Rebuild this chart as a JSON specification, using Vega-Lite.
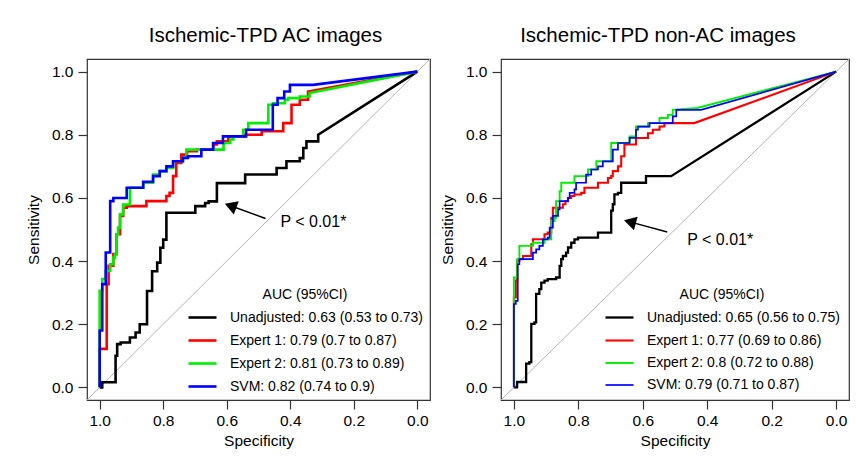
{
  "$schema": "https://vega.github.io/schema/vega-lite/v6.json",
  "background": "white",
  "padding": {"left": 25, "top": 24, "right": 0, "bottom": 0},
  "config": {
    "font": "Liberation Sans",
    "view": {"stroke": "#333", "strokeWidth": 1.2},
    "axis": {"domain": false, "grid": false, "tickColor": "#333", "tickSize": 9, "tickWidth": 1.2, "labelFontSize": 15.5, "labelColor": "#000", "titleFontSize": 15.5, "titleFontWeight": "normal", "titleColor": "#000", "labelPadding": 4},
    "axisY": {"labelPadding": 5, "titlePadding": 10},
    "axisX": {"titlePadding": 5},
    "legend": {"padding": 0},
    "title": {"fontSize": 20.5, "fontWeight": "normal", "color": "#000", "offset": 11}
  },
  "datasets": {
    "ac": [
      {"curve":"Unadjusted: 0.63 (0.53 to 0.73)","spec":1,"sens":0},
      {"curve":"Unadjusted: 0.63 (0.53 to 0.73)","spec":0.992,"sens":0},
      {"curve":"Unadjusted: 0.63 (0.53 to 0.73)","spec":0.992,"sens":0.016},
      {"curve":"Unadjusted: 0.63 (0.53 to 0.73)","spec":0.950,"sens":0.016},
      {"curve":"Unadjusted: 0.63 (0.53 to 0.73)","spec":0.950,"sens":0.1},
      {"curve":"Unadjusted: 0.63 (0.53 to 0.73)","spec":0.945,"sens":0.1},
      {"curve":"Unadjusted: 0.63 (0.53 to 0.73)","spec":0.945,"sens":0.137},
      {"curve":"Unadjusted: 0.63 (0.53 to 0.73)","spec":0.934,"sens":0.137},
      {"curve":"Unadjusted: 0.63 (0.53 to 0.73)","spec":0.934,"sens":0.142},
      {"curve":"Unadjusted: 0.63 (0.53 to 0.73)","spec":0.905,"sens":0.142},
      {"curve":"Unadjusted: 0.63 (0.53 to 0.73)","spec":0.905,"sens":0.158},
      {"curve":"Unadjusted: 0.63 (0.53 to 0.73)","spec":0.887,"sens":0.158},
      {"curve":"Unadjusted: 0.63 (0.53 to 0.73)","spec":0.887,"sens":0.174},
      {"curve":"Unadjusted: 0.63 (0.53 to 0.73)","spec":0.874,"sens":0.174},
      {"curve":"Unadjusted: 0.63 (0.53 to 0.73)","spec":0.874,"sens":0.2},
      {"curve":"Unadjusted: 0.63 (0.53 to 0.73)","spec":0.851,"sens":0.2},
      {"curve":"Unadjusted: 0.63 (0.53 to 0.73)","spec":0.851,"sens":0.305},
      {"curve":"Unadjusted: 0.63 (0.53 to 0.73)","spec":0.835,"sens":0.305},
      {"curve":"Unadjusted: 0.63 (0.53 to 0.73)","spec":0.835,"sens":0.368},
      {"curve":"Unadjusted: 0.63 (0.53 to 0.73)","spec":0.819,"sens":0.368},
      {"curve":"Unadjusted: 0.63 (0.53 to 0.73)","spec":0.819,"sens":0.395},
      {"curve":"Unadjusted: 0.63 (0.53 to 0.73)","spec":0.809,"sens":0.395},
      {"curve":"Unadjusted: 0.63 (0.53 to 0.73)","spec":0.809,"sens":0.442},
      {"curve":"Unadjusted: 0.63 (0.53 to 0.73)","spec":0.800,"sens":0.442},
      {"curve":"Unadjusted: 0.63 (0.53 to 0.73)","spec":0.800,"sens":0.468},
      {"curve":"Unadjusted: 0.63 (0.53 to 0.73)","spec":0.790,"sens":0.468},
      {"curve":"Unadjusted: 0.63 (0.53 to 0.73)","spec":0.790,"sens":0.553},
      {"curve":"Unadjusted: 0.63 (0.53 to 0.73)","spec":0.699,"sens":0.553},
      {"curve":"Unadjusted: 0.63 (0.53 to 0.73)","spec":0.699,"sens":0.574},
      {"curve":"Unadjusted: 0.63 (0.53 to 0.73)","spec":0.668,"sens":0.574},
      {"curve":"Unadjusted: 0.63 (0.53 to 0.73)","spec":0.668,"sens":0.584},
      {"curve":"Unadjusted: 0.63 (0.53 to 0.73)","spec":0.657,"sens":0.584},
      {"curve":"Unadjusted: 0.63 (0.53 to 0.73)","spec":0.657,"sens":0.589},
      {"curve":"Unadjusted: 0.63 (0.53 to 0.73)","spec":0.631,"sens":0.589},
      {"curve":"Unadjusted: 0.63 (0.53 to 0.73)","spec":0.631,"sens":0.647},
      {"curve":"Unadjusted: 0.63 (0.53 to 0.73)","spec":0.542,"sens":0.647},
      {"curve":"Unadjusted: 0.63 (0.53 to 0.73)","spec":0.542,"sens":0.674},
      {"curve":"Unadjusted: 0.63 (0.53 to 0.73)","spec":0.443,"sens":0.674},
      {"curve":"Unadjusted: 0.63 (0.53 to 0.73)","spec":0.443,"sens":0.695},
      {"curve":"Unadjusted: 0.63 (0.53 to 0.73)","spec":0.412,"sens":0.695},
      {"curve":"Unadjusted: 0.63 (0.53 to 0.73)","spec":0.412,"sens":0.716},
      {"curve":"Unadjusted: 0.63 (0.53 to 0.73)","spec":0.370,"sens":0.716},
      {"curve":"Unadjusted: 0.63 (0.53 to 0.73)","spec":0.370,"sens":0.726},
      {"curve":"Unadjusted: 0.63 (0.53 to 0.73)","spec":0.359,"sens":0.726},
      {"curve":"Unadjusted: 0.63 (0.53 to 0.73)","spec":0.359,"sens":0.758},
      {"curve":"Unadjusted: 0.63 (0.53 to 0.73)","spec":0.349,"sens":0.758},
      {"curve":"Unadjusted: 0.63 (0.53 to 0.73)","spec":0.349,"sens":0.779},
      {"curve":"Unadjusted: 0.63 (0.53 to 0.73)","spec":0.312,"sens":0.779},
      {"curve":"Unadjusted: 0.63 (0.53 to 0.73)","spec":0.312,"sens":0.8},
      {"curve":"Unadjusted: 0.63 (0.53 to 0.73)","spec":0,"sens":1},

      {"curve":"Expert 1: 0.79 (0.7 to 0.87)","spec":1,"sens":0},
      {"curve":"Expert 1: 0.79 (0.7 to 0.87)","spec":1,"sens":0.122},
      {"curve":"Expert 1: 0.79 (0.7 to 0.87)","spec":0.978,"sens":0.122},
      {"curve":"Expert 1: 0.79 (0.7 to 0.87)","spec":0.978,"sens":0.327},
      {"curve":"Expert 1: 0.79 (0.7 to 0.87)","spec":0.972,"sens":0.327},
      {"curve":"Expert 1: 0.79 (0.7 to 0.87)","spec":0.972,"sens":0.385},
      {"curve":"Expert 1: 0.79 (0.7 to 0.87)","spec":0.957,"sens":0.385},
      {"curve":"Expert 1: 0.79 (0.7 to 0.87)","spec":0.957,"sens":0.422},
      {"curve":"Expert 1: 0.79 (0.7 to 0.87)","spec":0.947,"sens":0.422},
      {"curve":"Expert 1: 0.79 (0.7 to 0.87)","spec":0.947,"sens":0.485},
      {"curve":"Expert 1: 0.79 (0.7 to 0.87)","spec":0.936,"sens":0.485},
      {"curve":"Expert 1: 0.79 (0.7 to 0.87)","spec":0.936,"sens":0.543},
      {"curve":"Expert 1: 0.79 (0.7 to 0.87)","spec":0.926,"sens":0.543},
      {"curve":"Expert 1: 0.79 (0.7 to 0.87)","spec":0.926,"sens":0.569},
      {"curve":"Expert 1: 0.79 (0.7 to 0.87)","spec":0.915,"sens":0.569},
      {"curve":"Expert 1: 0.79 (0.7 to 0.87)","spec":0.915,"sens":0.574},
      {"curve":"Expert 1: 0.79 (0.7 to 0.87)","spec":0.853,"sens":0.574},
      {"curve":"Expert 1: 0.79 (0.7 to 0.87)","spec":0.853,"sens":0.590},
      {"curve":"Expert 1: 0.79 (0.7 to 0.87)","spec":0.790,"sens":0.590},
      {"curve":"Expert 1: 0.79 (0.7 to 0.87)","spec":0.790,"sens":0.606},
      {"curve":"Expert 1: 0.79 (0.7 to 0.87)","spec":0.780,"sens":0.606},
      {"curve":"Expert 1: 0.79 (0.7 to 0.87)","spec":0.780,"sens":0.616},
      {"curve":"Expert 1: 0.79 (0.7 to 0.87)","spec":0.769,"sens":0.616},
      {"curve":"Expert 1: 0.79 (0.7 to 0.87)","spec":0.769,"sens":0.669},
      {"curve":"Expert 1: 0.79 (0.7 to 0.87)","spec":0.759,"sens":0.669},
      {"curve":"Expert 1: 0.79 (0.7 to 0.87)","spec":0.759,"sens":0.711},
      {"curve":"Expert 1: 0.79 (0.7 to 0.87)","spec":0.743,"sens":0.711},
      {"curve":"Expert 1: 0.79 (0.7 to 0.87)","spec":0.743,"sens":0.737},
      {"curve":"Expert 1: 0.79 (0.7 to 0.87)","spec":0.725,"sens":0.737},
      {"curve":"Expert 1: 0.79 (0.7 to 0.87)","spec":0.725,"sens":0.748},
      {"curve":"Expert 1: 0.79 (0.7 to 0.87)","spec":0.694,"sens":0.748},
      {"curve":"Expert 1: 0.79 (0.7 to 0.87)","spec":0.694,"sens":0.753},
      {"curve":"Expert 1: 0.79 (0.7 to 0.87)","spec":0.642,"sens":0.753},
      {"curve":"Expert 1: 0.79 (0.7 to 0.87)","spec":0.642,"sens":0.769},
      {"curve":"Expert 1: 0.79 (0.7 to 0.87)","spec":0.631,"sens":0.769},
      {"curve":"Expert 1: 0.79 (0.7 to 0.87)","spec":0.631,"sens":0.779},
      {"curve":"Expert 1: 0.79 (0.7 to 0.87)","spec":0.595,"sens":0.779},
      {"curve":"Expert 1: 0.79 (0.7 to 0.87)","spec":0.595,"sens":0.795},
      {"curve":"Expert 1: 0.79 (0.7 to 0.87)","spec":0.542,"sens":0.795},
      {"curve":"Expert 1: 0.79 (0.7 to 0.87)","spec":0.542,"sens":0.800},
      {"curve":"Expert 1: 0.79 (0.7 to 0.87)","spec":0.490,"sens":0.800},
      {"curve":"Expert 1: 0.79 (0.7 to 0.87)","spec":0.490,"sens":0.811},
      {"curve":"Expert 1: 0.79 (0.7 to 0.87)","spec":0.422,"sens":0.811},
      {"curve":"Expert 1: 0.79 (0.7 to 0.87)","spec":0.422,"sens":0.837},
      {"curve":"Expert 1: 0.79 (0.7 to 0.87)","spec":0.396,"sens":0.837},
      {"curve":"Expert 1: 0.79 (0.7 to 0.87)","spec":0.396,"sens":0.895},
      {"curve":"Expert 1: 0.79 (0.7 to 0.87)","spec":0.370,"sens":0.895},
      {"curve":"Expert 1: 0.79 (0.7 to 0.87)","spec":0.370,"sens":0.911},
      {"curve":"Expert 1: 0.79 (0.7 to 0.87)","spec":0.344,"sens":0.911},
      {"curve":"Expert 1: 0.79 (0.7 to 0.87)","spec":0.344,"sens":0.937},
      {"curve":"Expert 1: 0.79 (0.7 to 0.87)","spec":0,"sens":1},

      {"curve":"Expert 2: 0.81 (0.73 to 0.89)","spec":1,"sens":0},
      {"curve":"Expert 2: 0.81 (0.73 to 0.89)","spec":1,"sens":0.306},
      {"curve":"Expert 2: 0.81 (0.73 to 0.89)","spec":0.992,"sens":0.306},
      {"curve":"Expert 2: 0.81 (0.73 to 0.89)","spec":0.992,"sens":0.343},
      {"curve":"Expert 2: 0.81 (0.73 to 0.89)","spec":0.981,"sens":0.343},
      {"curve":"Expert 2: 0.81 (0.73 to 0.89)","spec":0.981,"sens":0.369},
      {"curve":"Expert 2: 0.81 (0.73 to 0.89)","spec":0.967,"sens":0.369},
      {"curve":"Expert 2: 0.81 (0.73 to 0.89)","spec":0.967,"sens":0.390},
      {"curve":"Expert 2: 0.81 (0.73 to 0.89)","spec":0.957,"sens":0.390},
      {"curve":"Expert 2: 0.81 (0.73 to 0.89)","spec":0.957,"sens":0.411},
      {"curve":"Expert 2: 0.81 (0.73 to 0.89)","spec":0.952,"sens":0.411},
      {"curve":"Expert 2: 0.81 (0.73 to 0.89)","spec":0.952,"sens":0.422},
      {"curve":"Expert 2: 0.81 (0.73 to 0.89)","spec":0.947,"sens":0.422},
      {"curve":"Expert 2: 0.81 (0.73 to 0.89)","spec":0.947,"sens":0.485},
      {"curve":"Expert 2: 0.81 (0.73 to 0.89)","spec":0.942,"sens":0.485},
      {"curve":"Expert 2: 0.81 (0.73 to 0.89)","spec":0.942,"sens":0.506},
      {"curve":"Expert 2: 0.81 (0.73 to 0.89)","spec":0.936,"sens":0.506},
      {"curve":"Expert 2: 0.81 (0.73 to 0.89)","spec":0.936,"sens":0.548},
      {"curve":"Expert 2: 0.81 (0.73 to 0.89)","spec":0.926,"sens":0.548},
      {"curve":"Expert 2: 0.81 (0.73 to 0.89)","spec":0.926,"sens":0.579},
      {"curve":"Expert 2: 0.81 (0.73 to 0.89)","spec":0.905,"sens":0.579},
      {"curve":"Expert 2: 0.81 (0.73 to 0.89)","spec":0.905,"sens":0.632},
      {"curve":"Expert 2: 0.81 (0.73 to 0.89)","spec":0.863,"sens":0.632},
      {"curve":"Expert 2: 0.81 (0.73 to 0.89)","spec":0.863,"sens":0.648},
      {"curve":"Expert 2: 0.81 (0.73 to 0.89)","spec":0.832,"sens":0.648},
      {"curve":"Expert 2: 0.81 (0.73 to 0.89)","spec":0.832,"sens":0.674},
      {"curve":"Expert 2: 0.81 (0.73 to 0.89)","spec":0.811,"sens":0.674},
      {"curve":"Expert 2: 0.81 (0.73 to 0.89)","spec":0.811,"sens":0.685},
      {"curve":"Expert 2: 0.81 (0.73 to 0.89)","spec":0.790,"sens":0.685},
      {"curve":"Expert 2: 0.81 (0.73 to 0.89)","spec":0.790,"sens":0.695},
      {"curve":"Expert 2: 0.81 (0.73 to 0.89)","spec":0.769,"sens":0.695},
      {"curve":"Expert 2: 0.81 (0.73 to 0.89)","spec":0.769,"sens":0.716},
      {"curve":"Expert 2: 0.81 (0.73 to 0.89)","spec":0.738,"sens":0.716},
      {"curve":"Expert 2: 0.81 (0.73 to 0.89)","spec":0.738,"sens":0.727},
      {"curve":"Expert 2: 0.81 (0.73 to 0.89)","spec":0.727,"sens":0.727},
      {"curve":"Expert 2: 0.81 (0.73 to 0.89)","spec":0.727,"sens":0.753},
      {"curve":"Expert 2: 0.81 (0.73 to 0.89)","spec":0.610,"sens":0.753},
      {"curve":"Expert 2: 0.81 (0.73 to 0.89)","spec":0.610,"sens":0.774},
      {"curve":"Expert 2: 0.81 (0.73 to 0.89)","spec":0.589,"sens":0.774},
      {"curve":"Expert 2: 0.81 (0.73 to 0.89)","spec":0.589,"sens":0.785},
      {"curve":"Expert 2: 0.81 (0.73 to 0.89)","spec":0.579,"sens":0.785},
      {"curve":"Expert 2: 0.81 (0.73 to 0.89)","spec":0.579,"sens":0.795},
      {"curve":"Expert 2: 0.81 (0.73 to 0.89)","spec":0.548,"sens":0.795},
      {"curve":"Expert 2: 0.81 (0.73 to 0.89)","spec":0.548,"sens":0.816},
      {"curve":"Expert 2: 0.81 (0.73 to 0.89)","spec":0.532,"sens":0.816},
      {"curve":"Expert 2: 0.81 (0.73 to 0.89)","spec":0.532,"sens":0.837},
      {"curve":"Expert 2: 0.81 (0.73 to 0.89)","spec":0.469,"sens":0.837},
      {"curve":"Expert 2: 0.81 (0.73 to 0.89)","spec":0.469,"sens":0.895},
      {"curve":"Expert 2: 0.81 (0.73 to 0.89)","spec":0.454,"sens":0.895},
      {"curve":"Expert 2: 0.81 (0.73 to 0.89)","spec":0.454,"sens":0.900},
      {"curve":"Expert 2: 0.81 (0.73 to 0.89)","spec":0.417,"sens":0.900},
      {"curve":"Expert 2: 0.81 (0.73 to 0.89)","spec":0.417,"sens":0.911},
      {"curve":"Expert 2: 0.81 (0.73 to 0.89)","spec":0.407,"sens":0.911},
      {"curve":"Expert 2: 0.81 (0.73 to 0.89)","spec":0.407,"sens":0.916},
      {"curve":"Expert 2: 0.81 (0.73 to 0.89)","spec":0.370,"sens":0.916},
      {"curve":"Expert 2: 0.81 (0.73 to 0.89)","spec":0.370,"sens":0.921},
      {"curve":"Expert 2: 0.81 (0.73 to 0.89)","spec":0.339,"sens":0.921},
      {"curve":"Expert 2: 0.81 (0.73 to 0.89)","spec":0.339,"sens":0.932},
      {"curve":"Expert 2: 0.81 (0.73 to 0.89)","spec":0,"sens":1},

      {"curve":"SVM: 0.82 (0.74 to 0.9)","spec":1,"sens":0},
      {"curve":"SVM: 0.82 (0.74 to 0.9)","spec":1,"sens":0.18},
      {"curve":"SVM: 0.82 (0.74 to 0.9)","spec":0.992,"sens":0.18},
      {"curve":"SVM: 0.82 (0.74 to 0.9)","spec":0.992,"sens":0.327},
      {"curve":"SVM: 0.82 (0.74 to 0.9)","spec":0.981,"sens":0.327},
      {"curve":"SVM: 0.82 (0.74 to 0.9)","spec":0.981,"sens":0.427},
      {"curve":"SVM: 0.82 (0.74 to 0.9)","spec":0.967,"sens":0.427},
      {"curve":"SVM: 0.82 (0.74 to 0.9)","spec":0.967,"sens":0.590},
      {"curve":"SVM: 0.82 (0.74 to 0.9)","spec":0.957,"sens":0.590},
      {"curve":"SVM: 0.82 (0.74 to 0.9)","spec":0.957,"sens":0.600},
      {"curve":"SVM: 0.82 (0.74 to 0.9)","spec":0.915,"sens":0.600},
      {"curve":"SVM: 0.82 (0.74 to 0.9)","spec":0.915,"sens":0.632},
      {"curve":"SVM: 0.82 (0.74 to 0.9)","spec":0.863,"sens":0.632},
      {"curve":"SVM: 0.82 (0.74 to 0.9)","spec":0.863,"sens":0.651},
      {"curve":"SVM: 0.82 (0.74 to 0.9)","spec":0.832,"sens":0.651},
      {"curve":"SVM: 0.82 (0.74 to 0.9)","spec":0.832,"sens":0.669},
      {"curve":"SVM: 0.82 (0.74 to 0.9)","spec":0.811,"sens":0.669},
      {"curve":"SVM: 0.82 (0.74 to 0.9)","spec":0.811,"sens":0.685},
      {"curve":"SVM: 0.82 (0.74 to 0.9)","spec":0.790,"sens":0.685},
      {"curve":"SVM: 0.82 (0.74 to 0.9)","spec":0.790,"sens":0.700},
      {"curve":"SVM: 0.82 (0.74 to 0.9)","spec":0.769,"sens":0.700},
      {"curve":"SVM: 0.82 (0.74 to 0.9)","spec":0.769,"sens":0.716},
      {"curve":"SVM: 0.82 (0.74 to 0.9)","spec":0.738,"sens":0.716},
      {"curve":"SVM: 0.82 (0.74 to 0.9)","spec":0.738,"sens":0.727},
      {"curve":"SVM: 0.82 (0.74 to 0.9)","spec":0.722,"sens":0.727},
      {"curve":"SVM: 0.82 (0.74 to 0.9)","spec":0.722,"sens":0.732},
      {"curve":"SVM: 0.82 (0.74 to 0.9)","spec":0.680,"sens":0.732},
      {"curve":"SVM: 0.82 (0.74 to 0.9)","spec":0.680,"sens":0.753},
      {"curve":"SVM: 0.82 (0.74 to 0.9)","spec":0.643,"sens":0.753},
      {"curve":"SVM: 0.82 (0.74 to 0.9)","spec":0.643,"sens":0.774},
      {"curve":"SVM: 0.82 (0.74 to 0.9)","spec":0.612,"sens":0.774},
      {"curve":"SVM: 0.82 (0.74 to 0.9)","spec":0.612,"sens":0.795},
      {"curve":"SVM: 0.82 (0.74 to 0.9)","spec":0.539,"sens":0.795},
      {"curve":"SVM: 0.82 (0.74 to 0.9)","spec":0.539,"sens":0.816},
      {"curve":"SVM: 0.82 (0.74 to 0.9)","spec":0.455,"sens":0.816},
      {"curve":"SVM: 0.82 (0.74 to 0.9)","spec":0.455,"sens":0.895},
      {"curve":"SVM: 0.82 (0.74 to 0.9)","spec":0.440,"sens":0.895},
      {"curve":"SVM: 0.82 (0.74 to 0.9)","spec":0.440,"sens":0.916},
      {"curve":"SVM: 0.82 (0.74 to 0.9)","spec":0.419,"sens":0.916},
      {"curve":"SVM: 0.82 (0.74 to 0.9)","spec":0.419,"sens":0.937},
      {"curve":"SVM: 0.82 (0.74 to 0.9)","spec":0.401,"sens":0.937},
      {"curve":"SVM: 0.82 (0.74 to 0.9)","spec":0.401,"sens":0.958},
      {"curve":"SVM: 0.82 (0.74 to 0.9)","spec":0.328,"sens":0.958},
      {"curve":"SVM: 0.82 (0.74 to 0.9)","spec":0,"sens":1}
    ],
    "nonac": [
      {"curve":"Unadjusted: 0.65 (0.56 to 0.75)","spec":1,"sens":0},
      {"curve":"Unadjusted: 0.65 (0.56 to 0.75)","spec":0.990,"sens":0},
      {"curve":"Unadjusted: 0.65 (0.56 to 0.75)","spec":0.990,"sens":0.017},
      {"curve":"Unadjusted: 0.65 (0.56 to 0.75)","spec":0.962,"sens":0.017},
      {"curve":"Unadjusted: 0.65 (0.56 to 0.75)","spec":0.962,"sens":0.075},
      {"curve":"Unadjusted: 0.65 (0.56 to 0.75)","spec":0.952,"sens":0.075},
      {"curve":"Unadjusted: 0.65 (0.56 to 0.75)","spec":0.952,"sens":0.080},
      {"curve":"Unadjusted: 0.65 (0.56 to 0.75)","spec":0.946,"sens":0.080},
      {"curve":"Unadjusted: 0.65 (0.56 to 0.75)","spec":0.946,"sens":0.201},
      {"curve":"Unadjusted: 0.65 (0.56 to 0.75)","spec":0.936,"sens":0.201},
      {"curve":"Unadjusted: 0.65 (0.56 to 0.75)","spec":0.936,"sens":0.206},
      {"curve":"Unadjusted: 0.65 (0.56 to 0.75)","spec":0.931,"sens":0.206},
      {"curve":"Unadjusted: 0.65 (0.56 to 0.75)","spec":0.931,"sens":0.296},
      {"curve":"Unadjusted: 0.65 (0.56 to 0.75)","spec":0.921,"sens":0.296},
      {"curve":"Unadjusted: 0.65 (0.56 to 0.75)","spec":0.921,"sens":0.311},
      {"curve":"Unadjusted: 0.65 (0.56 to 0.75)","spec":0.915,"sens":0.311},
      {"curve":"Unadjusted: 0.65 (0.56 to 0.75)","spec":0.915,"sens":0.332},
      {"curve":"Unadjusted: 0.65 (0.56 to 0.75)","spec":0.905,"sens":0.332},
      {"curve":"Unadjusted: 0.65 (0.56 to 0.75)","spec":0.905,"sens":0.338},
      {"curve":"Unadjusted: 0.65 (0.56 to 0.75)","spec":0.895,"sens":0.338},
      {"curve":"Unadjusted: 0.65 (0.56 to 0.75)","spec":0.895,"sens":0.343},
      {"curve":"Unadjusted: 0.65 (0.56 to 0.75)","spec":0.869,"sens":0.343},
      {"curve":"Unadjusted: 0.65 (0.56 to 0.75)","spec":0.869,"sens":0.348},
      {"curve":"Unadjusted: 0.65 (0.56 to 0.75)","spec":0.858,"sens":0.348},
      {"curve":"Unadjusted: 0.65 (0.56 to 0.75)","spec":0.858,"sens":0.385},
      {"curve":"Unadjusted: 0.65 (0.56 to 0.75)","spec":0.853,"sens":0.385},
      {"curve":"Unadjusted: 0.65 (0.56 to 0.75)","spec":0.853,"sens":0.406},
      {"curve":"Unadjusted: 0.65 (0.56 to 0.75)","spec":0.848,"sens":0.406},
      {"curve":"Unadjusted: 0.65 (0.56 to 0.75)","spec":0.848,"sens":0.416},
      {"curve":"Unadjusted: 0.65 (0.56 to 0.75)","spec":0.838,"sens":0.416},
      {"curve":"Unadjusted: 0.65 (0.56 to 0.75)","spec":0.838,"sens":0.427},
      {"curve":"Unadjusted: 0.65 (0.56 to 0.75)","spec":0.832,"sens":0.427},
      {"curve":"Unadjusted: 0.65 (0.56 to 0.75)","spec":0.832,"sens":0.443},
      {"curve":"Unadjusted: 0.65 (0.56 to 0.75)","spec":0.822,"sens":0.443},
      {"curve":"Unadjusted: 0.65 (0.56 to 0.75)","spec":0.822,"sens":0.458},
      {"curve":"Unadjusted: 0.65 (0.56 to 0.75)","spec":0.812,"sens":0.458},
      {"curve":"Unadjusted: 0.65 (0.56 to 0.75)","spec":0.812,"sens":0.469},
      {"curve":"Unadjusted: 0.65 (0.56 to 0.75)","spec":0.801,"sens":0.469},
      {"curve":"Unadjusted: 0.65 (0.56 to 0.75)","spec":0.801,"sens":0.474},
      {"curve":"Unadjusted: 0.65 (0.56 to 0.75)","spec":0.739,"sens":0.474},
      {"curve":"Unadjusted: 0.65 (0.56 to 0.75)","spec":0.739,"sens":0.490},
      {"curve":"Unadjusted: 0.65 (0.56 to 0.75)","spec":0.698,"sens":0.490},
      {"curve":"Unadjusted: 0.65 (0.56 to 0.75)","spec":0.698,"sens":0.560},
      {"curve":"Unadjusted: 0.65 (0.56 to 0.75)","spec":0.693,"sens":0.560},
      {"curve":"Unadjusted: 0.65 (0.56 to 0.75)","spec":0.693,"sens":0.580},
      {"curve":"Unadjusted: 0.65 (0.56 to 0.75)","spec":0.688,"sens":0.580},
      {"curve":"Unadjusted: 0.65 (0.56 to 0.75)","spec":0.688,"sens":0.611},
      {"curve":"Unadjusted: 0.65 (0.56 to 0.75)","spec":0.677,"sens":0.611},
      {"curve":"Unadjusted: 0.65 (0.56 to 0.75)","spec":0.677,"sens":0.616},
      {"curve":"Unadjusted: 0.65 (0.56 to 0.75)","spec":0.667,"sens":0.616},
      {"curve":"Unadjusted: 0.65 (0.56 to 0.75)","spec":0.667,"sens":0.648},
      {"curve":"Unadjusted: 0.65 (0.56 to 0.75)","spec":0.590,"sens":0.648},
      {"curve":"Unadjusted: 0.65 (0.56 to 0.75)","spec":0.590,"sens":0.669},
      {"curve":"Unadjusted: 0.65 (0.56 to 0.75)","spec":0.512,"sens":0.669},
      {"curve":"Unadjusted: 0.65 (0.56 to 0.75)","spec":0,"sens":1},

      {"curve":"Expert 1: 0.77 (0.69 to 0.86)","spec":1,"sens":0},
      {"curve":"Expert 1: 0.77 (0.69 to 0.86)","spec":1,"sens":0.285},
      {"curve":"Expert 1: 0.77 (0.69 to 0.86)","spec":0.994,"sens":0.285},
      {"curve":"Expert 1: 0.77 (0.69 to 0.86)","spec":0.994,"sens":0.338},
      {"curve":"Expert 1: 0.77 (0.69 to 0.86)","spec":0.990,"sens":0.338},
      {"curve":"Expert 1: 0.77 (0.69 to 0.86)","spec":0.990,"sens":0.401},
      {"curve":"Expert 1: 0.77 (0.69 to 0.86)","spec":0.983,"sens":0.401},
      {"curve":"Expert 1: 0.77 (0.69 to 0.86)","spec":0.983,"sens":0.406},
      {"curve":"Expert 1: 0.77 (0.69 to 0.86)","spec":0.972,"sens":0.406},
      {"curve":"Expert 1: 0.77 (0.69 to 0.86)","spec":0.972,"sens":0.416},
      {"curve":"Expert 1: 0.77 (0.69 to 0.86)","spec":0.946,"sens":0.416},
      {"curve":"Expert 1: 0.77 (0.69 to 0.86)","spec":0.946,"sens":0.453},
      {"curve":"Expert 1: 0.77 (0.69 to 0.86)","spec":0.941,"sens":0.453},
      {"curve":"Expert 1: 0.77 (0.69 to 0.86)","spec":0.941,"sens":0.469},
      {"curve":"Expert 1: 0.77 (0.69 to 0.86)","spec":0.905,"sens":0.469},
      {"curve":"Expert 1: 0.77 (0.69 to 0.86)","spec":0.905,"sens":0.485},
      {"curve":"Expert 1: 0.77 (0.69 to 0.86)","spec":0.895,"sens":0.485},
      {"curve":"Expert 1: 0.77 (0.69 to 0.86)","spec":0.895,"sens":0.490},
      {"curve":"Expert 1: 0.77 (0.69 to 0.86)","spec":0.884,"sens":0.490},
      {"curve":"Expert 1: 0.77 (0.69 to 0.86)","spec":0.884,"sens":0.537},
      {"curve":"Expert 1: 0.77 (0.69 to 0.86)","spec":0.879,"sens":0.537},
      {"curve":"Expert 1: 0.77 (0.69 to 0.86)","spec":0.879,"sens":0.569},
      {"curve":"Expert 1: 0.77 (0.69 to 0.86)","spec":0.848,"sens":0.569},
      {"curve":"Expert 1: 0.77 (0.69 to 0.86)","spec":0.848,"sens":0.580},
      {"curve":"Expert 1: 0.77 (0.69 to 0.86)","spec":0.840,"sens":0.580},
      {"curve":"Expert 1: 0.77 (0.69 to 0.86)","spec":0.840,"sens":0.590},
      {"curve":"Expert 1: 0.77 (0.69 to 0.86)","spec":0.832,"sens":0.590},
      {"curve":"Expert 1: 0.77 (0.69 to 0.86)","spec":0.832,"sens":0.600},
      {"curve":"Expert 1: 0.77 (0.69 to 0.86)","spec":0.822,"sens":0.600},
      {"curve":"Expert 1: 0.77 (0.69 to 0.86)","spec":0.822,"sens":0.606},
      {"curve":"Expert 1: 0.77 (0.69 to 0.86)","spec":0.812,"sens":0.606},
      {"curve":"Expert 1: 0.77 (0.69 to 0.86)","spec":0.812,"sens":0.611},
      {"curve":"Expert 1: 0.77 (0.69 to 0.86)","spec":0.791,"sens":0.611},
      {"curve":"Expert 1: 0.77 (0.69 to 0.86)","spec":0.791,"sens":0.616},
      {"curve":"Expert 1: 0.77 (0.69 to 0.86)","spec":0.781,"sens":0.616},
      {"curve":"Expert 1: 0.77 (0.69 to 0.86)","spec":0.781,"sens":0.632},
      {"curve":"Expert 1: 0.77 (0.69 to 0.86)","spec":0.739,"sens":0.632},
      {"curve":"Expert 1: 0.77 (0.69 to 0.86)","spec":0.739,"sens":0.648},
      {"curve":"Expert 1: 0.77 (0.69 to 0.86)","spec":0.708,"sens":0.648},
      {"curve":"Expert 1: 0.77 (0.69 to 0.86)","spec":0.708,"sens":0.663},
      {"curve":"Expert 1: 0.77 (0.69 to 0.86)","spec":0.698,"sens":0.663},
      {"curve":"Expert 1: 0.77 (0.69 to 0.86)","spec":0.698,"sens":0.669},
      {"curve":"Expert 1: 0.77 (0.69 to 0.86)","spec":0.693,"sens":0.669},
      {"curve":"Expert 1: 0.77 (0.69 to 0.86)","spec":0.693,"sens":0.685},
      {"curve":"Expert 1: 0.77 (0.69 to 0.86)","spec":0.677,"sens":0.685},
      {"curve":"Expert 1: 0.77 (0.69 to 0.86)","spec":0.677,"sens":0.700},
      {"curve":"Expert 1: 0.77 (0.69 to 0.86)","spec":0.667,"sens":0.700},
      {"curve":"Expert 1: 0.77 (0.69 to 0.86)","spec":0.667,"sens":0.732},
      {"curve":"Expert 1: 0.77 (0.69 to 0.86)","spec":0.657,"sens":0.732},
      {"curve":"Expert 1: 0.77 (0.69 to 0.86)","spec":0.657,"sens":0.769},
      {"curve":"Expert 1: 0.77 (0.69 to 0.86)","spec":0.621,"sens":0.769},
      {"curve":"Expert 1: 0.77 (0.69 to 0.86)","spec":0.621,"sens":0.790},
      {"curve":"Expert 1: 0.77 (0.69 to 0.86)","spec":0.584,"sens":0.790},
      {"curve":"Expert 1: 0.77 (0.69 to 0.86)","spec":0.584,"sens":0.805},
      {"curve":"Expert 1: 0.77 (0.69 to 0.86)","spec":0.569,"sens":0.805},
      {"curve":"Expert 1: 0.77 (0.69 to 0.86)","spec":0.569,"sens":0.816},
      {"curve":"Expert 1: 0.77 (0.69 to 0.86)","spec":0.548,"sens":0.816},
      {"curve":"Expert 1: 0.77 (0.69 to 0.86)","spec":0.548,"sens":0.826},
      {"curve":"Expert 1: 0.77 (0.69 to 0.86)","spec":0.533,"sens":0.826},
      {"curve":"Expert 1: 0.77 (0.69 to 0.86)","spec":0.533,"sens":0.837},
      {"curve":"Expert 1: 0.77 (0.69 to 0.86)","spec":0.440,"sens":0.837},
      {"curve":"Expert 1: 0.77 (0.69 to 0.86)","spec":0,"sens":1},

      {"curve":"Expert 2: 0.8 (0.72 to 0.88)","spec":1,"sens":0},
      {"curve":"Expert 2: 0.8 (0.72 to 0.88)","spec":1,"sens":0.348},
      {"curve":"Expert 2: 0.8 (0.72 to 0.88)","spec":0.990,"sens":0.348},
      {"curve":"Expert 2: 0.8 (0.72 to 0.88)","spec":0.990,"sens":0.406},
      {"curve":"Expert 2: 0.8 (0.72 to 0.88)","spec":0.983,"sens":0.406},
      {"curve":"Expert 2: 0.8 (0.72 to 0.88)","spec":0.983,"sens":0.448},
      {"curve":"Expert 2: 0.8 (0.72 to 0.88)","spec":0.941,"sens":0.448},
      {"curve":"Expert 2: 0.8 (0.72 to 0.88)","spec":0.941,"sens":0.458},
      {"curve":"Expert 2: 0.8 (0.72 to 0.88)","spec":0.905,"sens":0.458},
      {"curve":"Expert 2: 0.8 (0.72 to 0.88)","spec":0.905,"sens":0.469},
      {"curve":"Expert 2: 0.8 (0.72 to 0.88)","spec":0.884,"sens":0.469},
      {"curve":"Expert 2: 0.8 (0.72 to 0.88)","spec":0.884,"sens":0.527},
      {"curve":"Expert 2: 0.8 (0.72 to 0.88)","spec":0.874,"sens":0.527},
      {"curve":"Expert 2: 0.8 (0.72 to 0.88)","spec":0.874,"sens":0.537},
      {"curve":"Expert 2: 0.8 (0.72 to 0.88)","spec":0.869,"sens":0.537},
      {"curve":"Expert 2: 0.8 (0.72 to 0.88)","spec":0.869,"sens":0.590},
      {"curve":"Expert 2: 0.8 (0.72 to 0.88)","spec":0.858,"sens":0.590},
      {"curve":"Expert 2: 0.8 (0.72 to 0.88)","spec":0.858,"sens":0.621},
      {"curve":"Expert 2: 0.8 (0.72 to 0.88)","spec":0.853,"sens":0.621},
      {"curve":"Expert 2: 0.8 (0.72 to 0.88)","spec":0.853,"sens":0.648},
      {"curve":"Expert 2: 0.8 (0.72 to 0.88)","spec":0.812,"sens":0.648},
      {"curve":"Expert 2: 0.8 (0.72 to 0.88)","spec":0.812,"sens":0.669},
      {"curve":"Expert 2: 0.8 (0.72 to 0.88)","spec":0.770,"sens":0.669},
      {"curve":"Expert 2: 0.8 (0.72 to 0.88)","spec":0.770,"sens":0.690},
      {"curve":"Expert 2: 0.8 (0.72 to 0.88)","spec":0.744,"sens":0.690},
      {"curve":"Expert 2: 0.8 (0.72 to 0.88)","spec":0.744,"sens":0.716},
      {"curve":"Expert 2: 0.8 (0.72 to 0.88)","spec":0.698,"sens":0.716},
      {"curve":"Expert 2: 0.8 (0.72 to 0.88)","spec":0.698,"sens":0.774},
      {"curve":"Expert 2: 0.8 (0.72 to 0.88)","spec":0.641,"sens":0.774},
      {"curve":"Expert 2: 0.8 (0.72 to 0.88)","spec":0.641,"sens":0.795},
      {"curve":"Expert 2: 0.8 (0.72 to 0.88)","spec":0.621,"sens":0.795},
      {"curve":"Expert 2: 0.8 (0.72 to 0.88)","spec":0.621,"sens":0.826},
      {"curve":"Expert 2: 0.8 (0.72 to 0.88)","spec":0.584,"sens":0.826},
      {"curve":"Expert 2: 0.8 (0.72 to 0.88)","spec":0.584,"sens":0.837},
      {"curve":"Expert 2: 0.8 (0.72 to 0.88)","spec":0.548,"sens":0.837},
      {"curve":"Expert 2: 0.8 (0.72 to 0.88)","spec":0.548,"sens":0.853},
      {"curve":"Expert 2: 0.8 (0.72 to 0.88)","spec":0.522,"sens":0.853},
      {"curve":"Expert 2: 0.8 (0.72 to 0.88)","spec":0.522,"sens":0.863},
      {"curve":"Expert 2: 0.8 (0.72 to 0.88)","spec":0.507,"sens":0.863},
      {"curve":"Expert 2: 0.8 (0.72 to 0.88)","spec":0.507,"sens":0.879},
      {"curve":"Expert 2: 0.8 (0.72 to 0.88)","spec":0.431,"sens":0.885},
      {"curve":"Expert 2: 0.8 (0.72 to 0.88)","spec":0,"sens":1},

      {"curve":"SVM: 0.79 (0.71 to 0.87)","spec":1,"sens":0},
      {"curve":"SVM: 0.79 (0.71 to 0.87)","spec":1,"sens":0.264},
      {"curve":"SVM: 0.79 (0.71 to 0.87)","spec":0.994,"sens":0.264},
      {"curve":"SVM: 0.79 (0.71 to 0.87)","spec":0.994,"sens":0.274},
      {"curve":"SVM: 0.79 (0.71 to 0.87)","spec":0.988,"sens":0.274},
      {"curve":"SVM: 0.79 (0.71 to 0.87)","spec":0.988,"sens":0.390},
      {"curve":"SVM: 0.79 (0.71 to 0.87)","spec":0.983,"sens":0.390},
      {"curve":"SVM: 0.79 (0.71 to 0.87)","spec":0.983,"sens":0.406},
      {"curve":"SVM: 0.79 (0.71 to 0.87)","spec":0.941,"sens":0.406},
      {"curve":"SVM: 0.79 (0.71 to 0.87)","spec":0.941,"sens":0.427},
      {"curve":"SVM: 0.79 (0.71 to 0.87)","spec":0.931,"sens":0.427},
      {"curve":"SVM: 0.79 (0.71 to 0.87)","spec":0.931,"sens":0.437},
      {"curve":"SVM: 0.79 (0.71 to 0.87)","spec":0.921,"sens":0.437},
      {"curve":"SVM: 0.79 (0.71 to 0.87)","spec":0.921,"sens":0.448},
      {"curve":"SVM: 0.79 (0.71 to 0.87)","spec":0.910,"sens":0.448},
      {"curve":"SVM: 0.79 (0.71 to 0.87)","spec":0.910,"sens":0.469},
      {"curve":"SVM: 0.79 (0.71 to 0.87)","spec":0.895,"sens":0.469},
      {"curve":"SVM: 0.79 (0.71 to 0.87)","spec":0.895,"sens":0.474},
      {"curve":"SVM: 0.79 (0.71 to 0.87)","spec":0.889,"sens":0.474},
      {"curve":"SVM: 0.79 (0.71 to 0.87)","spec":0.889,"sens":0.506},
      {"curve":"SVM: 0.79 (0.71 to 0.87)","spec":0.879,"sens":0.506},
      {"curve":"SVM: 0.79 (0.71 to 0.87)","spec":0.879,"sens":0.543},
      {"curve":"SVM: 0.79 (0.71 to 0.87)","spec":0.863,"sens":0.543},
      {"curve":"SVM: 0.79 (0.71 to 0.87)","spec":0.863,"sens":0.564},
      {"curve":"SVM: 0.79 (0.71 to 0.87)","spec":0.858,"sens":0.564},
      {"curve":"SVM: 0.79 (0.71 to 0.87)","spec":0.858,"sens":0.590},
      {"curve":"SVM: 0.79 (0.71 to 0.87)","spec":0.832,"sens":0.590},
      {"curve":"SVM: 0.79 (0.71 to 0.87)","spec":0.832,"sens":0.600},
      {"curve":"SVM: 0.79 (0.71 to 0.87)","spec":0.827,"sens":0.600},
      {"curve":"SVM: 0.79 (0.71 to 0.87)","spec":0.827,"sens":0.616},
      {"curve":"SVM: 0.79 (0.71 to 0.87)","spec":0.812,"sens":0.616},
      {"curve":"SVM: 0.79 (0.71 to 0.87)","spec":0.812,"sens":0.627},
      {"curve":"SVM: 0.79 (0.71 to 0.87)","spec":0.807,"sens":0.627},
      {"curve":"SVM: 0.79 (0.71 to 0.87)","spec":0.807,"sens":0.648},
      {"curve":"SVM: 0.79 (0.71 to 0.87)","spec":0.776,"sens":0.648},
      {"curve":"SVM: 0.79 (0.71 to 0.87)","spec":0.776,"sens":0.674},
      {"curve":"SVM: 0.79 (0.71 to 0.87)","spec":0.760,"sens":0.674},
      {"curve":"SVM: 0.79 (0.71 to 0.87)","spec":0.760,"sens":0.690},
      {"curve":"SVM: 0.79 (0.71 to 0.87)","spec":0.739,"sens":0.690},
      {"curve":"SVM: 0.79 (0.71 to 0.87)","spec":0.739,"sens":0.700},
      {"curve":"SVM: 0.79 (0.71 to 0.87)","spec":0.724,"sens":0.700},
      {"curve":"SVM: 0.79 (0.71 to 0.87)","spec":0.724,"sens":0.716},
      {"curve":"SVM: 0.79 (0.71 to 0.87)","spec":0.693,"sens":0.716},
      {"curve":"SVM: 0.79 (0.71 to 0.87)","spec":0.693,"sens":0.753},
      {"curve":"SVM: 0.79 (0.71 to 0.87)","spec":0.677,"sens":0.753},
      {"curve":"SVM: 0.79 (0.71 to 0.87)","spec":0.677,"sens":0.774},
      {"curve":"SVM: 0.79 (0.71 to 0.87)","spec":0.641,"sens":0.774},
      {"curve":"SVM: 0.79 (0.71 to 0.87)","spec":0.641,"sens":0.790},
      {"curve":"SVM: 0.79 (0.71 to 0.87)","spec":0.621,"sens":0.790},
      {"curve":"SVM: 0.79 (0.71 to 0.87)","spec":0.621,"sens":0.816},
      {"curve":"SVM: 0.79 (0.71 to 0.87)","spec":0.615,"sens":0.816},
      {"curve":"SVM: 0.79 (0.71 to 0.87)","spec":0.615,"sens":0.826},
      {"curve":"SVM: 0.79 (0.71 to 0.87)","spec":0.579,"sens":0.826},
      {"curve":"SVM: 0.79 (0.71 to 0.87)","spec":0.579,"sens":0.837},
      {"curve":"SVM: 0.79 (0.71 to 0.87)","spec":0.507,"sens":0.837},
      {"curve":"SVM: 0.79 (0.71 to 0.87)","spec":0.507,"sens":0.858},
      {"curve":"SVM: 0.79 (0.71 to 0.87)","spec":0.496,"sens":0.858},
      {"curve":"SVM: 0.79 (0.71 to 0.87)","spec":0.496,"sens":0.879},
      {"curve":"SVM: 0.79 (0.71 to 0.87)","spec":0.419,"sens":0.879},
      {"curve":"SVM: 0.79 (0.71 to 0.87)","spec":0,"sens":1}
    ]
  },
  "resolve": {"scale": {"color": "independent", "strokeWidth": "independent"}, "legend": {"color": "independent"}},
  "spacing": 6,
  "hconcat": [
    {
      "width": 343,
      "height": 341,
      "title": {"text": "Ischemic-TPD AC images", "dx": 7},
      "encoding": {
        "x": {"field": "spec", "type": "quantitative", "title": "Specificity",
              "scale": {"domain": [-0.04, 1.04], "reverse": true, "nice": false, "zero": false},
              "axis": {"values": [0, 0.2, 0.4, 0.6, 0.8, 1], "format": ".1f"}},
        "y": {"field": "sens", "type": "quantitative", "title": "Sensitivity",
              "scale": {"domain": [-0.04, 1.04], "nice": false, "zero": false},
              "axis": {"values": [0, 0.2, 0.4, 0.6, 0.8, 1], "format": ".1f"}}
      },
      "layer": [
        {
          "data": {"values": [{"spec": 1.04, "sens": -0.04}, {"spec": -0.04, "sens": 1.04}]},
          "mark": {"type": "line", "color": "#b4b4b4", "strokeWidth": 1}
        },
        {
          "data": {"name": "ac"},
          "mark": {"type": "line", "strokeWidth": 2.6},
          "encoding": {
            "order": {"value": null},
            "color": {"field": "curve", "type": "nominal",
              "scale": {"domain": ["Unadjusted: 0.63 (0.53 to 0.73)", "Expert 1: 0.79 (0.7 to 0.87)", "Expert 2: 0.81 (0.73 to 0.89)", "SVM: 0.82 (0.74 to 0.9)"],
                        "range": ["#000000", "#ff0000", "#00ee00", "#0000ff"]},
              "legend": {"title": "AUC (95%CI)", "orient": "none", "legendX": 100, "legendY": 229, "symbolType": "stroke", "symbolSize": 784, "symbolStrokeWidth": 2.6, "labelFontSize": 14, "titleFontSize": 14, "titleFontWeight": "normal", "titleColor": "#000", "labelColor": "#000", "labelOffset": 12, "rowPadding": -7.5, "titleAnchor": "middle", "titlePadding": 0, "labelLimit": 400}}
          }
        },
        {
          "data": {"values": [{"spec": 0.478, "sens": 0.535}, {"spec": 0.592, "sens": 0.577}]},
          "mark": {"type": "line", "color": "#000", "strokeWidth": 1.5},
          "encoding": {"order": {"value": null}}
        },
        {
          "data": {"values": [{"spec": 0.588, "sens": 0.575}]},
          "mark": {"type": "point", "shape": "triangle-up", "filled": true, "color": "#000", "opacity": 1, "size": 200, "angle": 290.6}
        },
        {
          "data": {"values": [{"spec": 0.431, "sens": 0.524, "label": "P < 0.01*"}]},
          "mark": {"type": "text", "align": "left", "baseline": "middle", "fontSize": 16, "color": "#000"},
          "encoding": {"text": {"field": "label"}}
        }
      ]
    },
    {
      "width": 348,
      "height": 341,
      "title": {"text": "Ischemic-TPD non-AC images", "dx": -17},
      "encoding": {
        "x": {"field": "spec", "type": "quantitative", "title": "Specificity",
              "scale": {"domain": [-0.04, 1.04], "reverse": true, "nice": false, "zero": false},
              "axis": {"values": [0, 0.2, 0.4, 0.6, 0.8, 1], "format": ".1f"}},
        "y": {"field": "sens", "type": "quantitative", "title": "Sensitivity",
              "scale": {"domain": [-0.04, 1.04], "nice": false, "zero": false},
              "axis": {"values": [0, 0.2, 0.4, 0.6, 0.8, 1], "format": ".1f"}}
      },
      "layer": [
        {
          "data": {"values": [{"spec": 1.04, "sens": -0.04}, {"spec": -0.04, "sens": 1.04}]},
          "mark": {"type": "line", "color": "#b4b4b4", "strokeWidth": 1}
        },
        {
          "data": {"name": "nonac"},
          "mark": {"type": "line"},
          "encoding": {
            "order": {"value": null},
            "strokeWidth": {"field": "curve", "type": "nominal",
              "scale": {"domain": ["Unadjusted: 0.65 (0.56 to 0.75)", "Expert 1: 0.77 (0.69 to 0.86)", "Expert 2: 0.8 (0.72 to 0.88)", "SVM: 0.79 (0.71 to 0.87)"], "range": [2.3, 1.7, 1.7, 1.7]},
              "legend": null},
            "color": {"field": "curve", "type": "nominal",
              "scale": {"domain": ["Unadjusted: 0.65 (0.56 to 0.75)", "Expert 1: 0.77 (0.69 to 0.86)", "Expert 2: 0.8 (0.72 to 0.88)", "SVM: 0.79 (0.71 to 0.87)"],
                        "range": ["#000000", "#ff0000", "#00ee00", "#0000ff"]},
              "legend": {"title": "AUC (95%CI)", "orient": "none", "legendX": 103, "legendY": 229, "symbolType": "stroke", "symbolSize": 784, "symbolStrokeWidth": 1.8, "labelFontSize": 14, "titleFontSize": 14, "titleFontWeight": "normal", "titleColor": "#000", "labelColor": "#000", "labelOffset": 12, "rowPadding": -7.5, "titleAnchor": "middle", "titlePadding": 0, "labelLimit": 400}}
          }
        },
        {
          "data": {"values": [{"spec": 0.524, "sens": 0.492}, {"spec": 0.643, "sens": 0.525}]},
          "mark": {"type": "line", "color": "#000", "strokeWidth": 1.5},
          "encoding": {"order": {"value": null}}
        },
        {
          "data": {"values": [{"spec": 0.640, "sens": 0.524}]},
          "mark": {"type": "point", "shape": "triangle-up", "filled": true, "color": "#000", "opacity": 1, "size": 200, "angle": 285.1}
        },
        {
          "data": {"values": [{"spec": 0.462, "sens": 0.466, "label": "P < 0.01*"}]},
          "mark": {"type": "text", "align": "left", "baseline": "middle", "fontSize": 16, "color": "#000"},
          "encoding": {"text": {"field": "label"}}
        }
      ]
    }
  ]
}
